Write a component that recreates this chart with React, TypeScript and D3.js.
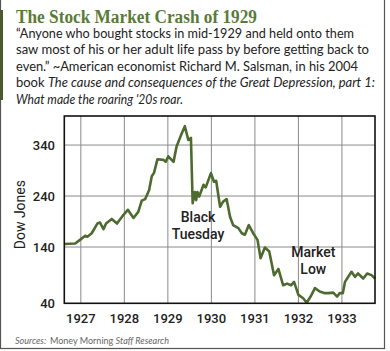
import React from "react";
import * as d3 from "d3";

// Dow Jones (fractional year, index value)
const years = [
  1926.62, 1926.87, 1926.98, 1927.1, 1927.15, 1927.25, 1927.38, 1927.44, 1927.52, 1927.58,
  1927.71, 1927.83, 1927.96, 1928.08, 1928.21, 1928.32, 1928.4, 1928.48, 1928.57, 1928.63,
  1928.68, 1928.76, 1928.9, 1928.95, 1929.01, 1929.13, 1929.2, 1929.32, 1929.39, 1929.47,
  1929.53, 1929.57, 1929.62, 1929.65, 1929.68, 1929.72, 1929.82, 1929.87, 1929.99, 1930.06,
  1930.11, 1930.2, 1930.27, 1930.35, 1930.43, 1930.5, 1930.62, 1930.7, 1930.77, 1930.86,
  1930.96, 1931.06, 1931.13, 1931.23, 1931.33, 1931.44, 1931.54, 1931.65, 1931.74, 1931.83,
  1931.9, 1932.0, 1932.11, 1932.19, 1932.28, 1932.38, 1932.49, 1932.61, 1932.69, 1932.8,
  1932.89, 1932.95, 1933.02, 1933.07, 1933.22, 1933.3, 1933.37, 1933.49, 1933.58, 1933.68,
  1933.76,
];
const dow = [
  146, 147, 154, 162, 160, 167, 186, 188, 175, 186,
  195, 186, 201, 213, 197, 209, 231, 234, 252, 279,
  285, 312, 311, 307, 318, 307, 337, 363, 377, 350,
  354, 226, 248, 232, 248, 239, 262, 257, 285, 268,
  270, 219, 229, 234, 199, 183, 177, 167, 164, 183,
  167, 154, 120, 139, 132, 90, 101, 72, 75, 72,
  78, 55, 49, 41, 52, 67, 61, 58, 58, 59,
  52, 58, 58, 78, 96, 87, 93, 84, 93, 90,
  84,
];
const yearTicks = [1927, 1928, 1929, 1930, 1931, 1932, 1933];
const yTicks = [40, 140, 240, 340];
const gridTicks = [140, 240, 340];

const quoteLines = [
  "\u201CAnyone who bought stocks in mid-1929 and held onto them",
  "saw most of his or her adult life pass by before getting back to",
  "even.\u201D ~American economist Richard M. Salsman, in his 2004",
];
// widths the lines take in the picture
const quoteWidths = [338, 353, 342];

const W = 390;
const H = 351;
const plot = { left: 64.3, right: 375, top: 116, bottom: 303.3 };
const green = "#4d6b2e";

export default function App() {
  const x = d3.scaleLinear().domain([1926.62, 1933.76]).range([plot.left, plot.right]);
  // the axis is squeezed below 140, so the scale is polylinear
  const y = d3.scaleLinear().domain([40, 140, 397]).range([plot.bottom, 247, plot.top]);

  const pts: [number, number][] = years.map((t, i) => [t, dow[i]]);
  const line = d3
    .line<[number, number]>()
    .x((d) => x(d[0]))
    .y((d) => y(d[1]));

  const sans = "Lato, 'Noto Sans', sans-serif";
  const axisFont = "Roboto, 'Noto Sans', sans-serif";

  return (
    <svg
      width={W}
      height={H}
      style={{ position: "absolute", left: 0, top: 0, background: "#fff" }}
    >
      {/* outer frame */}
      <rect x={0.5} y={-2} width={384} height={350.5} fill="#fff" stroke="#555" strokeWidth={1.2} />
      <rect x={0} y={10} width={3} height={90} fill="#4b5a2e" />

      <text
        x={16}
        y={23}
        fontFamily="'Liberation Serif', serif"
        fontWeight="bold"
        fontSize={18.5}
        fill="#5a7b38"
        textLength={241}
        lengthAdjust="spacingAndGlyphs"
      >
        The Stock Market Crash of 1929
      </text>

      <g fontFamily={sans} fontSize={13.6} fill="#222">
        {quoteLines.map((l, i) => (
          <text
            key={i}
            x={16}
            y={37.5 + i * 16.5}
            textLength={quoteWidths[i]}
            lengthAdjust="spacingAndGlyphs"
          >
            {l}
          </text>
        ))}
        <text x={16} y={37.5 + 3 * 16.5} textLength={359} lengthAdjust="spacingAndGlyphs">
          book <tspan fontStyle="italic">The cause and consequences of the Great Depression, part 1:</tspan>
        </text>
        <text
          x={16}
          y={37.5 + 4 * 16.5}
          fontStyle="italic"
          textLength={167}
          lengthAdjust="spacingAndGlyphs"
        >
          What made the roaring '20s roar.
        </text>
      </g>

      {/* grid */}
      <g stroke="#8a8a8a" strokeWidth={1}>
        {yearTicks.map((t) => (
          <line key={t} x1={x(t)} x2={x(t)} y1={plot.top} y2={plot.bottom} />
        ))}
        {gridTicks.map((v) => (
          <line key={v} x1={plot.left} x2={plot.right} y1={y(v)} y2={y(v)} />
        ))}
      </g>

      <path
        d={line(pts) || ""}
        fill="none"
        stroke={green}
        strokeWidth={2.6}
        strokeLinejoin="round"
      />

      <rect
        x={plot.left}
        y={plot.top}
        width={plot.right - plot.left}
        height={plot.bottom - plot.top}
        fill="none"
        stroke="#111"
        strokeWidth={1.6}
      />

      <g fontFamily={axisFont} fontSize={13} fontWeight={500} fill="#222">
        {yTicks.map((v) => (
          <text key={v} x={55} y={y(v)} dy="0.36em" textAnchor="end">
            {v}
          </text>
        ))}
        {yearTicks.map((t) => (
          <text key={t} x={x(t)} y={323} textAnchor="middle">
            {t}
          </text>
        ))}
        <text
          transform={`translate(25,${(plot.top + plot.bottom) / 2 + 5}) rotate(-90)`}
          textAnchor="middle"
          fontSize={14}
          fontWeight={400}
        >
          Dow Jones
        </text>
        <g textAnchor="middle" fontSize={14}>
          <text x={198} y={222.3}>Black</text>
          <text x={198} y={239.3}>Tuesday</text>
          <text x={313.3} y={257.3}>Market</text>
          <text x={313.3} y={274}>Low</text>
        </g>
      </g>

      <text
        x={15}
        y={344}
        fontFamily={sans}
        fontSize={9.5}
        fill="#666"
        textLength={154}
        lengthAdjust="spacingAndGlyphs"
      >
        <tspan fontStyle="italic">Sources:</tspan>
        <tspan dx={4}>Money Morning </tspan>
        <tspan fontStyle="italic">Staff Research</tspan>
      </text>
    </svg>
  );
}
